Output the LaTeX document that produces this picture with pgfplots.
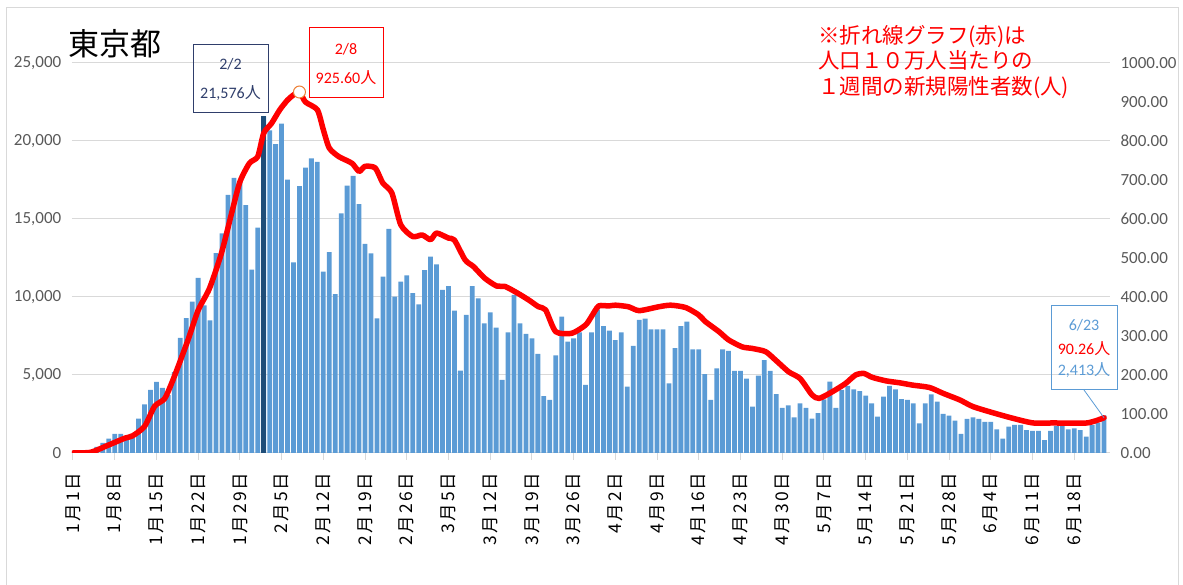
\documentclass[border=0pt]{standalone}
\usepackage{pgfplots}
\pgfplotsset{compat=1.18}
\usepackage{pgfplotstable}
\usepackage{fontspec}
\setmainfont{Carlito}
\newfontfamily\cjk{Noto Sans CJK JP}
\newfontfamily\cjkwide[LetterSpace=12]{Noto Sans CJK JP}

\definecolor{barblue}{HTML}{5B9BD5}
\definecolor{bardark}{HTML}{1F4E79}
\definecolor{navybox}{HTML}{2F3E6B}
\definecolor{ticktxt}{HTML}{595959}
\definecolor{gridc}{HTML}{D9D9D9}
\definecolor{mkorange}{HTML}{ED7D31}

% daily new cases, day 0 = 1/1
\pgfplotstableread{
d v
0 79
1 84
2 103
3 151
4 390
5 641
6 922
7 1224
8 1223
9 871
10 962
11 2198
12 3124
13 4051
14 4561
15 4172
16 3709
17 5185
18 7377
19 8638
20 9699
21 11227
22 9468
23 8503
24 12813
25 14086
26 16538
27 17631
28 17433
29 15895
30 11751
31 14445
32 21576
33 20679
34 19798
35 21121
36 17526
37 12214
38 17113
39 18287
40 18891
41 18660
42 11620
43 12880
44 10190
45 15360
46 17140
47 17760
48 15960
49 13400
50 12800
51 8630
52 11300
53 14360
54 10020
55 10980
56 11390
57 10240
58 9530
59 11730
60 12590
61 12090
62 10450
63 10700
64 9120
65 5280
66 8850
67 10700
68 9910
69 8310
70 9020
71 8030
72 4680
73 7740
74 10130
75 8310
76 7630
77 7350
78 6350
79 3650
80 3400
81 6260
82 8740
83 7140
84 7350
85 7740
86 4360
87 7740
88 9210
89 8140
90 7840
91 7240
92 7740
93 4250
94 6860
95 8530
96 8610
97 7930
98 7930
99 7930
100 4470
101 6730
102 8140
103 8420
104 6650
105 6650
106 5060
107 3400
108 5430
109 6650
110 6540
111 5260
112 5260
113 4770
114 2970
115 4960
116 5960
117 5260
118 3780
119 2890
120 3060
121 2290
122 3180
123 2890
124 2200
125 2560
126 3440
127 4570
128 2900
129 4040
130 4300
131 4080
132 3970
133 3680
134 3180
135 2330
136 3610
137 4300
138 4080
139 3460
140 3400
141 3180
142 1900
143 3180
144 3760
145 3290
146 2500
147 2390
148 2070
149 1220
150 2180
151 2290
152 2180
153 1990
154 1990
155 1520
156 920
157 1690
158 1800
159 1800
160 1470
161 1410
162 1410
163 830
164 1410
165 1730
166 1730
167 1520
168 1580
169 1470
170 1050
171 1800
172 1940
173 2413
}\dailydata

\begin{document}
\begin{tikzpicture}[x=1pt,y=1pt]
\path[use as bounding box] (0,0) rectangle (1183,585);
\draw[gridc, line width=1pt] (6,-5) -- (6,577) -- (1178,577) -- (1178,-5);

\begin{axis}[
  at={(71.8pt,132pt)}, anchor=south west,
  scale only axis, width=1038.2pt, height=390pt,
  xmin=-0.2, xmax=174, ymin=0, ymax=25000,
  axis x line*=bottom, axis y line*=left,
  y axis line style={draw=none},
  x axis line style={gridc, line width=1pt},
  xtick={0,7,...,168},
  xticklabels={1月1日,1月8日,1月15日,1月22日,1月29日,2月5日,2月12日,2月19日,2月26日,3月5日,3月12日,3月19日,3月26日,4月2日,4月9日,4月16日,4月23日,4月30日,5月7日,5月14日,5月21日,5月28日,6月4日,6月11日,6月18日},
  xticklabel style={rotate=90, anchor=east, font=\cjkwide\fontsize{17.5}{17.5}\selectfont, text=black},
  xticklabel shift=9pt,
  tick align=outside,
  xtick style={gridc, line width=1pt},
  major tick length=7pt,
  ytick={0,5000,...,25000},
  ytick style={draw=none},
  yticklabel style={font=\fontsize{17}{17}\selectfont, text=ticktxt},
  /pgf/number format/assume math mode=true,
  /pgf/number format/1000 sep={,},
  scaled y ticks=false,
  ymajorgrids, grid style={gridc, line width=1pt},
]
\addplot[ybar, bar width=4.8pt, bar shift=0pt, fill=barblue, draw=none] table[x=d, y=v] {\dailydata};
\addplot[ybar, bar width=4.8pt, bar shift=0pt, fill=bardark, draw=none] coordinates {(32,21576)};
\end{axis}

\begin{axis}[
  at={(71.8pt,132pt)}, anchor=south west,
  scale only axis, width=1038.2pt, height=390pt,
  xmin=-0.2, xmax=174, ymin=0, ymax=1000,
  axis x line=none, axis y line*=right,
  y axis line style={draw=none},
  ytick={0,100,...,1000},
  ytick style={draw=none},
  yticklabel={\hspace{7pt}\pgfmathprintnumber{\tick}},
  yticklabel style={font=\fontsize{17}{17}\selectfont, text=ticktxt},
  /pgf/number format/fixed,
  /pgf/number format/fixed zerofill,
  /pgf/number format/precision=2,
  /pgf/number format/1000 sep={},
  /pgf/number format/assume math mode=true,
]
\addplot[red, line width=5.5pt, line join=round, line cap=round, smooth, tension=0.4] coordinates {
(0,0) (3,2) (5.9,20) (8.7,38) (10,44) (12,68) (13.7,120) (15.4,140) (17,196)
(19.3,290) (21,366) (22.9,422) (24.9,512) (26.6,614) (28,695) (29.6,743) (31,760)
(32,820) (33.3,845) (34.7,880) (36,905) (37,918) (38,925.6) (39,900) (41,880)
(42,829) (43,782) (44.6,760) (46.8,743) (48,722) (49,735) (50.7,731) (52,692)
(53.5,667) (55,585) (57,555) (58.6,559) (60,547) (61,564) (63,551) (64,546)
(65.8,495) (67.2,478) (69.1,448) (71.1,428) (72.5,427) (74.7,409) (76.5,392)
(78.1,375) (79.3,367) (81,311) (83.7,307) (86,328) (87,350) (88.2,377) (89.9,377)
(91,379) (93.2,375) (95,365) (98.3,375) (100.3,379) (102.8,373) (105,354)
(106.1,337) (108.4,311) (110,290) (112.3,272) (114,268) (116.2,260) (117.9,238)
(120.1,208) (122,191) (124,149) (125.2,140) (127.4,157) (129.6,178) (131.3,200)
(132.7,204) (134.1,194) (136.4,185) (138.7,180) (140.9,174) (143.7,168) (146,153)
(148.8,136) (151,119) (154.4,103) (157.7,89) (161.1,77) (164.5,77) (170.1,77) (173,90.26)
};
\addplot[only marks, mark=*, mark size=6pt, mark options={draw=mkorange, fill=white, line width=1pt}] coordinates {(38,925.6)};
\coordinate (endpt) at (axis cs:173,90.26);
\end{axis}

% title and notes
\node[font=\cjk\fontsize{31}{31}\selectfont] at (115,541) {東京都};
\node[anchor=north west, align=left, text=red, inner sep=0pt, font=\cjk\fontsize{21.5}{25.5}\selectfont] at (818,560)
  {※折れ線グラフ(赤)は\\人口１０万人当たりの\\１週間の新規陽性者数(人)};

% 2/2 callout
\draw[navybox, line width=1pt] (193,540) rectangle (268,472);
\node[text=navybox, font=\fontsize{16}{16}\selectfont] at (230.5,521) {2/2};
\node[text=navybox, font=\fontsize{16}{16}\selectfont] at (230.5,492) {21,576{\cjk 人}};

% 2/8 callout
\draw[red, line width=1pt] (309,557) rectangle (383,487);
\node[text=red, font=\fontsize{16}{16}\selectfont] at (346,536) {2/8};
\node[text=red, font=\fontsize{16}{16}\selectfont] at (346,507) {925.60{\cjk 人}};

% 6/23 callout
\draw[barblue, line width=1pt] (1051,279) rectangle (1117,195);
\draw[barblue, line width=0.8pt] (1084,195) -- (endpt);
\node[text=barblue, font=\fontsize{16}{16}\selectfont] at (1084,260) {6/23};
\node[text=red, font=\fontsize{16}{16}\selectfont] at (1084,236) {90.26{\cjk 人}};
\node[text=barblue, font=\fontsize{16}{16}\selectfont] at (1084,215) {2,413{\cjk 人}};
\end{tikzpicture}
\end{document}
